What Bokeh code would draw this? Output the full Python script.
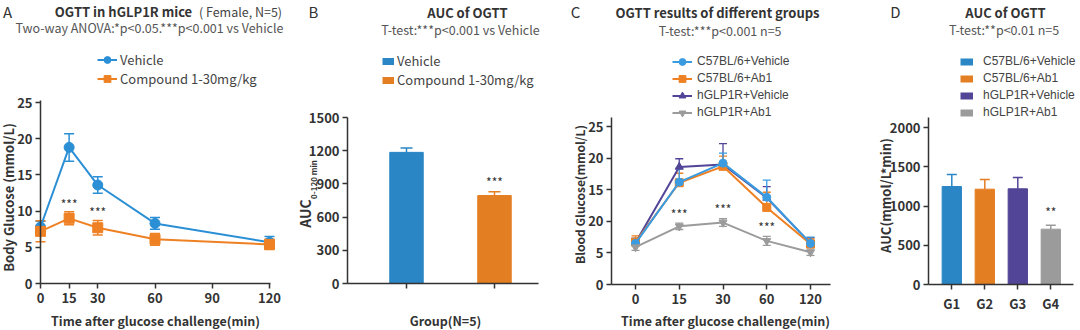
import math
import numpy as np
from bokeh.plotting import figure
from bokeh.models import (ColumnDataSource, Whisker, TeeHead, Label, Legend, LegendItem,
                          FixedTicker, Range1d)
from bokeh.layouts import row
from bokeh.embed import file_html
from bokeh.resources import INLINE
from bokeh.core.properties import value

# ---------------- data ----------------
# Panel A : OGTT in hGLP1R mice
time_a = [0, 15, 30, 60, 120]
vehicle_a = [7.8, 18.8, 13.6, 8.3, 5.7]
vehicle_a_err = [0.8, 1.9, 1.15, 0.8, 0.8]
compound_a = [7.2, 9.0, 7.7, 6.1, 5.4]
compound_a_err = [1.45, 0.9, 1.0, 0.8, 0.7]
stars_a = ["", "***", "***", "", ""]
names_a = ["Vehicle", "Compound 1-30mg/kg"]
ticks_a_x = [0, 15, 30, 60, 90, 120]
ticks_a_y = [0, 5, 10, 15, 20, 25]

# Panel B : AUC of OGTT
groups_b = ["Vehicle", "Compound 1-30mg/kg"]
auc_b = [1185, 795]
auc_b_err = [40, 35]
stars_b = ["", "***"]
ticks_b_y = [0, 300, 600, 900, 1200, 1500]

# Panel C : OGTT results of different groups
time_c = ["0", "15", "30", "60", "120"]
c57_vehicle = [6.5, 16.2, 19.2, 13.8, 6.5]
c57_vehicle_err = [0.8, 2.2, 1.6, 2.7, 1.0]
c57_ab1 = [6.7, 16.1, 18.7, 12.2, 6.4]
c57_ab1_err = [1.0, 1.5, 1.6, 2.4, 0.8]
hglp_vehicle = [6.6, 18.6, 19.0, 13.7, 6.5]
hglp_vehicle_err = [0.7, 1.3, 3.3, 1.8, 0.9]
hglp_ab1 = [5.9, 9.2, 9.8, 6.9, 5.1]
hglp_ab1_err = [0.5, 0.5, 0.6, 0.7, 0.5]
stars_c = ["", "***", "***", "***", ""]
names_c = ["C57BL/6+Vehicle", "C57BL/6+Ab1", "hGLP1R+Vehicle", "hGLP1R+Ab1"]
ticks_c_y = [0, 5, 10, 15, 20, 25]
labels_c_y = ["0", "5", "20", "15", "20", "25"]   # as printed on the original

# Panel D : AUC of OGTT
groups_d = ["G1", "G2", "G3", "G4"]
auc_d = [1248, 1214, 1219, 705]
auc_d_err = [153, 124, 144, 50]
stars_d = ["", "", "", "**"]
ticks_d_y = [0, 500, 1000, 1500, 2000]

# ---------------- style ----------------
FONT = "Noto Sans CJK SC"
LFONT = "Liberation Sans"
TXT = "#333333"
BLUE = "#2b8fd6"
BLUE_C = "#3a9be0"
BLUE_BAR = "#2a86c5"
ORANGE = "#ee8123"
ORANGE_BAR = "#e47e23"
PURPLE = "#524597"
GREY = "#9b9b9b"
H = 330


def make_panel(x0, W, x_ref, x_ref_px, x_scale, y0_px, y_scale, yaxis_x, ytop, xaxis_end):
    """Figure whose frame is the whole canvas; axes are pinned at data positions."""
    xs = x_ref - (x_ref_px - x0) / x_scale
    xe = xs + W / x_scale
    ys = -(H - y0_px) / y_scale
    ye = y0_px / y_scale
    p = figure(width=W, height=H, x_range=Range1d(xs, xe), y_range=Range1d(ys, ye),
               min_border=0, min_border_left=0, min_border_right=0, min_border_top=0,
               min_border_bottom=0, output_backend="svg", toolbar_location=None)
    p.outline_line_color = None
    p.xgrid.grid_line_color = None
    p.ygrid.grid_line_color = None
    p.yaxis.fixed_location = yaxis_x
    p.yaxis.bounds = (0, ytop)
    p.xaxis.fixed_location = 0
    p.xaxis.bounds = (yaxis_x, xaxis_end)
    for ax in (p.xaxis, p.yaxis):
        ax.axis_line_color = TXT
        ax.axis_line_width = 1.5
        ax.major_tick_line_color = TXT
        ax.major_tick_line_width = 1.5
        ax.major_tick_out = 5
        ax.major_tick_in = 0
        ax.minor_tick_line_color = None
        ax.major_label_text_font = FONT
        ax.major_label_text_font_style = "bold"
        ax.major_label_text_font_size = "13px"
        ax.major_label_text_color = TXT
    p.yaxis.major_label_standoff = 3
    p.xaxis.major_label_standoff = 4
    return p


def lab(p, x0, ax, ay, s, size, bold=False, color=TXT, font=FONT, angle=0.0, align="center"):
    p.add_layout(Label(x=ax - x0, y=H - ay, x_units="screen", y_units="screen", text=s,
                       text_font=font, text_font_size=f"{size}px",
                       text_font_style="bold" if bold else "normal", text_color=color,
                       text_align=align, text_baseline="middle", angle=angle))


def whisker(p, xs, vals, errs, color, both=True, size=10, width=1.5):
    v = np.array(vals, dtype=float)
    e = np.array(errs, dtype=float)
    src = ColumnDataSource(dict(x=list(xs), upper=list(v + e),
                                lower=list(v - e) if both else list(v)))
    w = Whisker(source=src, base="x", upper="upper", lower="lower",
                dimension="height", line_color=color, line_width=width,
                upper_head=TeeHead(size=size, line_color=color, line_width=width),
                lower_head=TeeHead(size=size, line_color=color, line_width=width) if both else None)
    p.add_layout(w)


def style_legend(lg, font, size, gw, gh, standoff):
    lg.background_fill_alpha = 0
    lg.border_line_color = None
    lg.padding = 0
    lg.margin = 0
    lg.spacing = 0
    lg.glyph_width = gw
    lg.glyph_height = gh
    lg.label_height = gh
    lg.label_standoff = standoff
    lg.label_text_font = font
    lg.label_text_font_size = f"{size}px"
    lg.label_text_color = "#444444"


def stars(p, xs, tops, errs, marks, offset):
    sx = [x for x, s in zip(xs, marks) if s]
    sy = [t + e + offset for t, e, s in zip(tops, errs, marks) if s]
    p.text(x=sx, y=sy, text=[s for s in marks if s], text_font=value(FONT),
           text_font_size="12px", text_align="center", text_baseline="middle",
           text_color=TXT)


def patch_legend_renderers(p, colors):
    nan = float("nan")
    return [p.line(x=[nan], y=[nan], line_color=c, line_width=7) for c in colors]


# ---------------- Panel A ----------------
A_X0, A_W = 0, 290
pA = make_panel(A_X0, A_W, 0, 40, 229 / 120, 283, 181 / 25, 0, 25.3, 120.6)
pA.xaxis.ticker = FixedTicker(ticks=ticks_a_x)
pA.yaxis.ticker = FixedTicker(ticks=ticks_a_y)
whisker(pA, time_a, vehicle_a, vehicle_a_err, BLUE)
whisker(pA, time_a, compound_a, compound_a_err, ORANGE)
lv = pA.line(time_a, vehicle_a, line_color=BLUE, line_width=2)
sv = pA.scatter(time_a, vehicle_a, marker="circle", size=10, color=BLUE)
lc = pA.line(time_a, compound_a, line_color=ORANGE, line_width=2)
sc = pA.scatter(time_a, compound_a, marker="square", size=10, color=ORANGE)
stars(pA, time_a, compound_a, compound_a_err, stars_a, 1.2)
legA = Legend(items=[LegendItem(label=names_a[0], renderers=[lv, sv]),
                     LegendItem(label=names_a[1], renderers=[lc, sc])],
              location=(97 - A_X0, H - 87.5))
style_legend(legA, FONT, 13, 20, 17, 3)
pA.add_layout(legA)
lab(pA, A_X0, 7, 11, "A", 15)
lab(pA, A_X0, 123, 11, "OGTT in hGLP1R mice", 13, bold=True)
lab(pA, A_X0, 240, 11, "( Female, N=5)", 12.5, color="#444444")
lab(pA, A_X0, 149, 27, "Two-way ANOVA:*p<0.05.***p<0.001 vs Vehicle", 12.5, color="#555555")
lab(pA, A_X0, 8, 197, "Body Glucose (mmol/L)", 13, bold=True, angle=math.pi / 2)
lab(pA, A_X0, 155, 320, "Time after glucose challenge(min)", 12.5, bold=True)

# ---------------- Panel B ----------------
B_X0, B_W = 290, 258
xb = [1, 2]
pB = make_panel(B_X0, B_W, 1, 406, 88, 283, 166 / 1500, 1 - 59 / 88, 1500, 1 + 132 / 88)
pB.xaxis.ticker = FixedTicker(ticks=xb)
pB.xaxis.major_label_overrides = {1: "", 2: ""}
pB.yaxis.ticker = FixedTicker(ticks=ticks_b_y)
bar_colors_b = [BLUE_BAR, ORANGE_BAR]
for i in range(2):
    whisker(pB, [xb[i]], [auc_b[i]], [auc_b_err[i]], bar_colors_b[i], both=False, size=12)
src_b = ColumnDataSource(dict(x=xb, top=auc_b, color=bar_colors_b))
pB.vbar(x="x", top="top", width=0.38, fill_color="color", line_color="color", source=src_b)
stars(pB, xb, auc_b, auc_b_err, stars_b, 95)
rb = patch_legend_renderers(pB, bar_colors_b)
legB = Legend(items=[LegendItem(label=g, renderers=[r]) for g, r in zip(groups_b, rb)],
              location=(382 - B_X0, H - 89))
style_legend(legB, FONT, 13, 12, 18, 3)
pB.add_layout(legB)
lab(pB, B_X0, 313, 11, "B", 15)
lab(pB, B_X0, 467, 12, "AUC of OGTT", 13, bold=True)
lab(pB, B_X0, 460, 29, "T-test:***p<0.001 vs Vehicle", 12.5, color="#555555")
lab(pB, B_X0, 304, 213, "AUC", 14, bold=True, angle=math.pi / 2)
lab(pB, B_X0, 313, 179, "0-120 min", 8, bold=True, angle=math.pi / 2)
lab(pB, B_X0, 445, 320, "Group(N=5)", 12.5, bold=True)

# ---------------- Panel C ----------------
C_X0, C_W = 548, 290
xc = list(range(len(time_c)))
pC = make_panel(C_X0, C_W, 0, 635, 43.75, 284, 158 / 25, -24 / 43.75, 26.4, 195 / 43.75)
pC.xaxis.ticker = FixedTicker(ticks=xc)
pC.xaxis.major_label_overrides = {i: t for i, t in zip(xc, time_c)}
pC.yaxis.ticker = FixedTicker(ticks=ticks_c_y)
pC.yaxis.major_label_overrides = {t: s for t, s in zip(ticks_c_y, labels_c_y)}
series_c = [
    (c57_vehicle, c57_vehicle_err, BLUE_C, "circle", False),
    (c57_ab1, c57_ab1_err, ORANGE, "square", False),
    (hglp_vehicle, hglp_vehicle_err, PURPLE, "triangle", False),
    (hglp_ab1, hglp_ab1_err, GREY, "inverted_triangle", True),
]
draw_order = [2, 1, 0, 3]
for k in draw_order:
    vals, errs, col, mk, both = series_c[k]
    whisker(pC, xc, vals, errs, col, both=both, size=8, width=1.3)
rend_c = {}
for k in draw_order:
    vals, errs, col, mk, both = series_c[k]
    l = pC.line(xc, vals, line_color=col, line_width=2)
    s = pC.scatter(xc, vals, marker=mk, size=8, color=col)
    rend_c[k] = [l, s]
stars(pC, xc, hglp_ab1, hglp_ab1_err, stars_c, 1.6)
legC = Legend(items=[LegendItem(label=names_c[k], renderers=rend_c[k]) for k in range(4)],
              location=(672 - C_X0, H - 120.5))
style_legend(legC, LFONT, 12, 20, 17, 5)
pC.add_layout(legC)
lab(pC, C_X0, 575, 11, "C", 15)
lab(pC, C_X0, 717, 12, "OGTT results of different groups", 13, bold=True)
lab(pC, C_X0, 721, 30, "T-test:***p<0.001  n=5", 12.5, color="#555555")
lab(pC, C_X0, 579, 194, "Blood Glucose(mmol/L)", 12, bold=True, angle=math.pi / 2)
lab(pC, C_X0, 725, 320, "Time after glucose challenge(min)", 12.5, bold=True)

# ---------------- Panel D ----------------
D_X0, D_W = 838, 242
xd = [1, 2, 3, 4]
colors_d = [BLUE_BAR, ORANGE_BAR, PURPLE, GREY]
pD = make_panel(D_X0, D_W, 1, 951.3, 33, 284, 157 / 2000, 1 - 23.3 / 33, 2127, 4 + 23 / 33)
pD.xaxis.ticker = FixedTicker(ticks=xd)
pD.xaxis.major_label_overrides = {i: g for i, g in zip(xd, groups_d)}
pD.yaxis.ticker = FixedTicker(ticks=ticks_d_y)
for i in range(4):
    whisker(pD, [xd[i]], [auc_d[i]], [auc_d_err[i]], colors_d[i], both=False, size=10)
src_d = ColumnDataSource(dict(x=xd, top=auc_d, color=colors_d))
pD.vbar(x="x", top="top", width=0.585, fill_color="color", line_color="color", source=src_d)
stars(pD, xd, auc_d, auc_d_err, stars_d, 180)
rd = patch_legend_renderers(pD, colors_d)
legD = Legend(items=[LegendItem(label=n, renderers=[r]) for n, r in zip(names_c, rd)],
              location=(960 - D_X0, H - 120.5))
style_legend(legD, LFONT, 12, 13, 17, 10)
pD.add_layout(legD)
lab(pD, D_X0, 895, 11, "D", 15)
lab(pD, D_X0, 1005, 12, "AUC of OGTT", 13, bold=True)
lab(pD, D_X0, 1005, 29, "T-test:**p<0.01  n=5", 12.5, color="#555555")
lab(pD, D_X0, 885, 195, "AUC(mmol/L*min)", 13, bold=True, angle=math.pi / 2)

layout = row(pA, pB, pC, pD, spacing=0)
open("out.html", "w").write(file_html(layout, INLINE))
